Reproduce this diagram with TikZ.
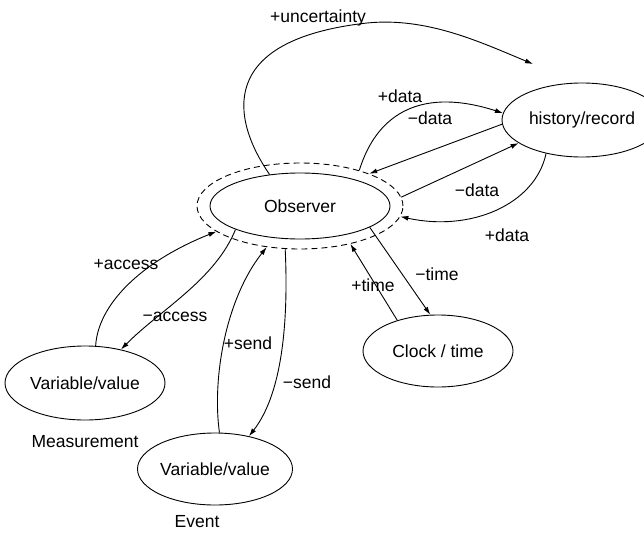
\documentclass[tikz,border=0pt]{standalone}
\usepackage{fontspec}
\setmainfont{Liberation Sans}
\usetikzlibrary{shapes.geometric,arrows.meta}

\tikzset{
    blob/.style={draw,ellipse,inner sep=0pt,line width=0.9pt},
    ring/.style={blob,dash pattern=on 6pt off 4pt},
    conn/.style={line width=0.9pt,-{Latex[length=8pt,width=5pt]}},
    lbl/.style={inner sep=0pt}
}

\begin{document}
\begin{tikzpicture}[x=1pt,y=-1pt,font=\fontsize{17.5}{21}\selectfont]
    \clip (0,0) rectangle (644,535);

    % Observer
    \node[blob,minimum width=180pt,minimum height=66pt] (obs) at (300,206) {Observer};
    \node[ring,minimum width=206pt,minimum height=86pt] (obsring) at (300,206) {};

    % Other nodes
    \node[blob,minimum width=160pt,minimum height=74pt] (hist) at (582,120) {history/record};
    \node[blob,minimum width=150pt,minimum height=72pt] (clock) at (438,351) {Clock / time};
    \node[blob,minimum width=160pt,minimum height=74pt] (meas) at (85,383) {Variable/value};
    \node[blob,minimum width=150pt,minimum height=72pt] (event) at (215,469) {Variable/value};
    \node[lbl] (measname) at (85,442) {Measurement};
    \node[lbl] (eventname) at (197,522) {Event};
    \coordinate (unc) at (533,64);

    % Uncertainty
    \draw[conn] (obs.134) .. controls (232,120) and (215,40) .. (367,23)
        .. controls (427,17) and (480,42) .. (unc);
    \node[lbl] (luncert) at (318,18) {+uncertainty};

    % History
    \draw[conn] (obsring.31) .. controls (378,110) and (425,88) .. (hist.175);
    \draw[conn] (hist.183) -- (obsring.25);
    \draw[conn] (obsring.5) -- (hist.200);
    \draw[conn] (hist.223) .. controls (535,205) and (470,232) .. (obsring.-6);
    \node[lbl] (ldataa) at (400,96) {+data};
    \node[lbl] (ldatab) at (430,118) {−data};
    \node[lbl] (ldatac) at (477,190) {−data};
    \node[lbl] (ldatad) at (507,235) {+data};

    % Measurement
    \draw[conn] (meas.74) .. controls (98,305) and (140,262) .. (obsring.197);
    \draw[conn] (obs.200) .. controls (215,280) and (160,310) .. (meas.43);
    \node[lbl] (lacca) at (126,265) {+access};
    \node[lbl] (laccb) at (175,317) {−access};

    % Event
    \draw[conn] (event.83) .. controls (212,380) and (225,300) .. (obsring.231);
    \draw[conn] (obsring.251) .. controls (288,310) and (285,390) .. (event.44);
    \node[lbl] (lsenda) at (248,343) {+send};
    \node[lbl] (lsendb) at (307,382) {−send};

    % Clock
    \draw[conn] (clock.143) -- (obsring.-37);
    \draw[conn] (obs.-17) -- (clock.102);
    \node[lbl] (ltimea) at (373,285) {+time};
    \node[lbl] (ltimeb) at (437,274) {−time};
\end{tikzpicture}
\end{document}
